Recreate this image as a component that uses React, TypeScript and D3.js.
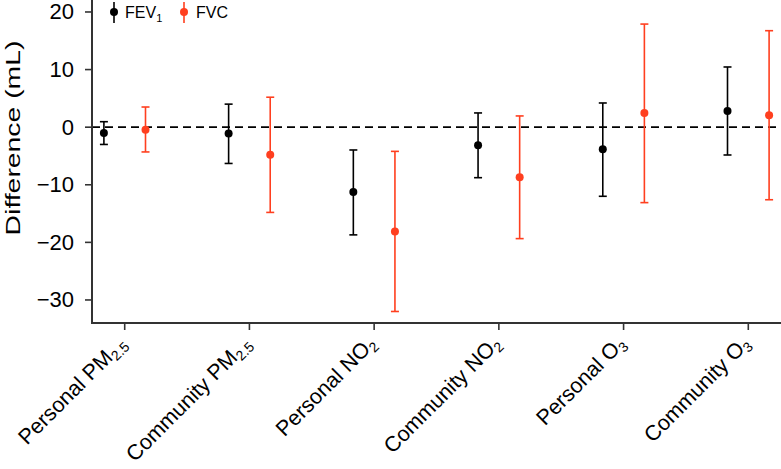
import React from "react";
import * as d3 from "d3";

const categories = ["Personal PM2.5", "Community PM2.5", "Personal NO2", "Community NO2", "Personal O3", "Community O3"];
const labelMain = ["Personal PM", "Community PM", "Personal NO", "Community NO", "Personal O", "Community O"];
const labelSub = ["2.5", "2.5", "2", "2", "3", "3"];

const fev1Est = [-1.0, -1.1, -11.25, -3.15, -3.85, 2.8];
const fev1Lo = [-3.0, -6.3, -18.7, -8.77, -12.0, -4.83];
const fev1Hi = [0.95, 4.0, -3.96, 2.47, 4.2, 10.45];

const fvcEst = [-0.43, -4.8, -18.1, -8.7, 2.47, 2.07];
const fvcLo = [-4.3, -14.8, -32.0, -19.35, -13.1, -12.6];
const fvcHi = [3.5, 5.2, -4.2, 1.95, 17.9, 16.75];

const yTicks = [20, 10, 0, -10, -20, -30];

const W = 781;
const H = 469;
const left = 92;
const bottom = 323;
const RED = "#FF3F1F";
const AXIS = "#333333";
const FONT = "'Liberation Sans', Arial, Helvetica, sans-serif";

export default function App() {
  const y = d3.scaleLinear().domain([-34.0, 22.08]).range([bottom, 0]);
  const x = d3.scalePoint<string>().domain(categories).range([124.7, 748.3]);
  const off = 20.8;

  const series = [
    { name: "FEV", color: "#000000", est: fev1Est, lo: fev1Lo, hi: fev1Hi, dx: -off },
    { name: "FVC", color: RED, est: fvcEst, lo: fvcLo, hi: fvcHi, dx: off },
  ];

  return (
    <svg width={W} height={H} style={{ position: "absolute", left: 0, top: 0, background: "#fff" }} fontFamily={FONT}>
      {/* zero line */}
      <line x1={left} x2={W} y1={y(0)} y2={y(0)} stroke="#000" strokeWidth={1.6} strokeDasharray="8,5" />

      {/* axes */}
      <line x1={left} x2={left} y1={0} y2={bottom} stroke={AXIS} strokeWidth={2} />
      <line x1={left - 1} x2={W} y1={bottom} y2={bottom} stroke={AXIS} strokeWidth={2} />
      {yTicks.map((t) => (
        <g key={t}>
          <line x1={left - 7} x2={left} y1={y(t)} y2={y(t)} stroke={AXIS} strokeWidth={1.6} />
          <text x={left - 18} y={y(t)} textAnchor="end" dominantBaseline="central" fontSize={22} fill="#000">
            {t < 0 ? "\u2212" + Math.abs(t) : String(t)}
          </text>
        </g>
      ))}
      {categories.map((c, i) => (
        <g key={c}>
          <line x1={x(c)!} x2={x(c)!} y1={bottom} y2={bottom + 7} stroke={AXIS} strokeWidth={1.6} />
          <text
            transform={`translate(${x(c)! + 3},${bottom + 22}) rotate(-45)`}
            textAnchor="end"
            fontSize={21.5}
            fill="#000"
          >
            {labelMain[i]}
            <tspan fontSize={14} dy={4}>{labelSub[i]}</tspan>
          </text>
        </g>
      ))}

      {/* y label */}
      <text
        transform={`translate(20,138) scale(1,1.35) rotate(-90)`}
        textAnchor="middle"
        fontSize={21}
        fill="#000"
      >
        Difference (mL)
      </text>

      {/* data */}
      {series.map((s) => (
        <g key={s.name}>
          {categories.map((c, i) => {
            const cx = x(c)! + s.dx;
            return (
              <g key={c}>
                <line x1={cx} x2={cx} y1={y(s.lo[i])} y2={y(s.hi[i])} stroke={s.color} strokeWidth={1.6} />
                <line x1={cx - 4} x2={cx + 4} y1={y(s.lo[i])} y2={y(s.lo[i])} stroke={s.color} strokeWidth={1.6} />
                <line x1={cx - 4} x2={cx + 4} y1={y(s.hi[i])} y2={y(s.hi[i])} stroke={s.color} strokeWidth={1.6} />
                <circle cx={cx} cy={y(s.est[i])} r={4} fill={s.color} />
              </g>
            );
          })}
        </g>
      ))}

      {/* legend */}
      <g>
        <line x1={114} x2={114} y1={2} y2={23} stroke="#000" strokeWidth={1.6} />
        <circle cx={114} cy={12} r={4} fill="#000" />
        <text x={125} y={12} dominantBaseline="central" fontSize={16} fill="#000">
          FEV<tspan fontSize={11} dy={6}>1</tspan>
        </text>
        <line x1={184} x2={184} y1={2} y2={23} stroke={RED} strokeWidth={1.6} />
        <circle cx={184} cy={12} r={4} fill={RED} />
        <text x={196} y={12} dominantBaseline="central" fontSize={16} fill="#000">
          FVC
        </text>
      </g>
    </svg>
  );
}
